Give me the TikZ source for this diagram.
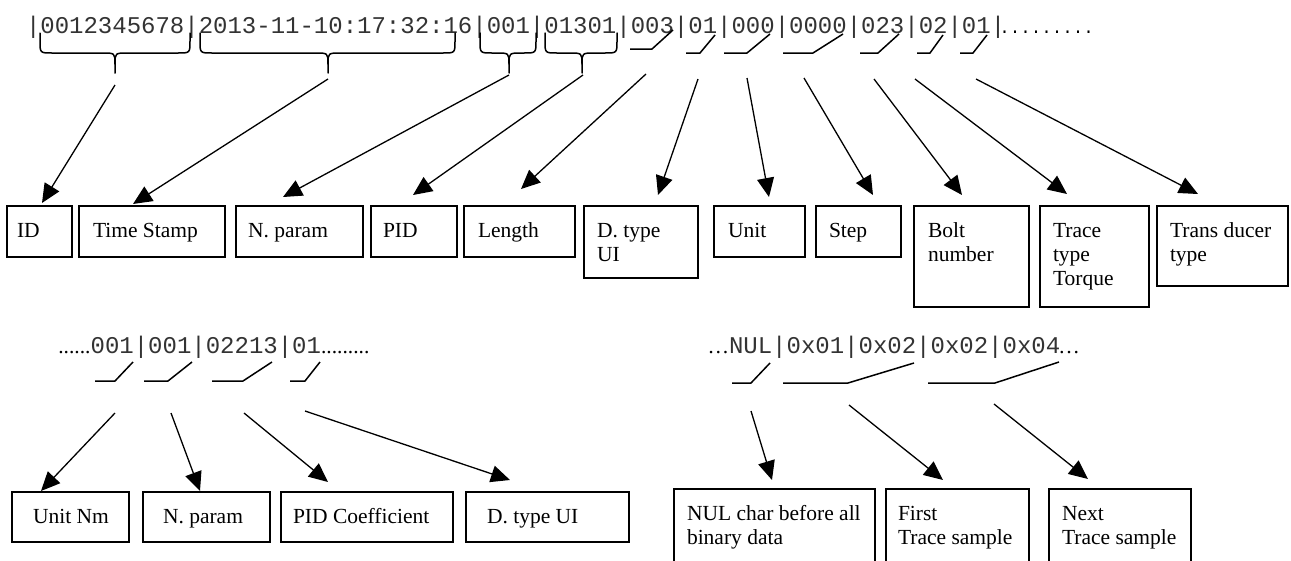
\documentclass[tikz,border=0pt]{standalone}
\usepackage{fontspec}
\setmainfont{Liberation Serif}
\newfontfamily\monof{Liberation Mono}
\usetikzlibrary{arrows.meta,calc}
\definecolor{monogray}{gray}{0.2}
\tikzset{
  box/.style={draw, line width=1.6pt, anchor=north west, inner sep=0pt, outer sep=0pt},
  lbl/.style={anchor=base west, inner sep=0pt, outer sep=0pt, font=\fontsize{21.5}{24}\selectfont},
  mono/.style={anchor=base west, inner sep=0pt, outer sep=0pt, text=monogray, font=\monof\fontsize{24}{28}\selectfont},
  monodots/.style={anchor=base west, inner sep=0pt, outer sep=0pt, font=\monof\fontsize{17.5}{20}\selectfont},
  sdots/.style={inner sep=0pt, outer sep=0pt, font=\fontsize{21.5}{24}\selectfont},
  arr/.style={line width=1.3pt, -{Triangle[length=19pt,width=17pt]}},
  brc/.style={line width=1.5pt, line cap=round, line join=round},
  hook/.style={line width=1.5pt, line join=round}
}
\newcommand{\mybrace}[3]{%
  \draw[brc] (#1,33) -- (#1,41) .. controls (#1,53) .. (#1+12,53) -- (#2-13,53) .. controls (#2,53) .. (#2,64) -- (#2,73);
  \draw[brc] (#3,33) -- (#3,41) .. controls (#3,53) .. (#3-12,53) -- (#2+13,53) .. controls (#2,53) .. (#2,64);}
\newcommand{\mkbox}[7]{%
  \node[box, minimum width=#4pt, minimum height=#5pt] (#1) at (#2,#3) {};
  \node[lbl] (#1t) at ($(#1.north west)+(#7,31)$) {#6};}
\newcommand{\two}[2]{\begin{tabular}[t]{@{}l@{}}#1\\#2\end{tabular}}
\newcommand{\three}[3]{\begin{tabular}[t]{@{}l@{}}#1\\#2\\#3\end{tabular}}
\begin{document}
\begin{tikzpicture}[x=1pt,y=-1pt]
\useasboundingbox (0,0) rectangle (1291,560);
\fill[white] (0,0) rectangle (1291,560);
\clip (0,0) rectangle (1291,560);

% ---------- row 1 text ----------
\node[mono] (row1) at (26,33) {|0012345678|2013-11-10:17:32:16|001|01301|003|01|000|0000|023|02|01|};
\node[monodots] (row1d) at ([xshift=-6pt]row1.base east) {.........};

% braces
\mybrace{40}{115}{190}
\mybrace{200}{328}{455}
\mybrace{480}{509}{536}
\mybrace{545}{582}{617}

% hooks
\draw[hook] (630,49) -- (652,49) -- (673,30);
\draw[hook] (686,53) -- (700,53) -- (715,35);
\draw[hook] (724,53) -- (747,53) -- (770,34);
\draw[hook] (783,53) -- (813,53) -- (843,34);
\draw[hook] (860,53) -- (878,53) -- (899,34);
\draw[hook] (917,53) -- (930,53) -- (943,35);
\draw[hook] (960,53) -- (973,53) -- (987,35);

% ---------- row 1 boxes ----------
\mkbox{bID}{7}{206}{65}{51}{ID}{10}
\mkbox{bTS}{79}{206}{146}{51}{Time Stamp}{14}
\mkbox{bNP}{236}{206}{127}{51}{N. param}{12}
\mkbox{bPID}{371}{206}{86}{51}{PID}{12}
\mkbox{bLen}{464}{206}{111}{51}{Length}{14}
\mkbox{bDT}{584}{206}{114}{72}{\two{D. type}{UI}}{13}
\mkbox{bUnit}{714}{206}{91}{51}{Unit}{14}
\mkbox{bStep}{816}{206}{85}{51}{Step}{13}
\mkbox{bBolt}{914}{206}{115}{101}{\two{Bolt}{number}}{14}
\mkbox{bTrace}{1040}{206}{109}{101}{\three{Trace}{type}{Torque}}{13}
\mkbox{bTrans}{1157}{206}{131}{80}{\two{Trans ducer}{type}}{13}

% row 1 arrow starts
\coordinate (sID) at (115,85);
\coordinate (sTS) at (328,79);
\coordinate (sNP) at (509,75);
\coordinate (sPID) at (583,75);
\coordinate (sLen) at (646,74);
\coordinate (sDT) at (698,79);
\coordinate (sUnit) at (747,78);
\coordinate (sStep) at (804,78);
\coordinate (sBolt) at (874,79);
\coordinate (sTrace) at (915,79);
\coordinate (sTrans) at (976,79);

\draw[arr] (sID) -- ($(bID.north west)+(35,-3)$);
\draw[arr] (sTS) -- ($(bTS.north west)+(54,-2)$);
\draw[arr] (sNP) -- ($(bNP.north west)+(47,-9)$);
\draw[arr] (sPID) -- ($(bPID.north west)+(42,-11)$);
\draw[arr] (sLen) -- ($(bLen.north west)+(57,-17)$);
\draw[arr] (sDT) -- ($(bDT.north west)+(74,-11)$);
\draw[arr] (sUnit) -- ($(bUnit.north west)+(55,-9)$);
\draw[arr] (sStep) -- ($(bStep.north west)+(57,-11)$);
\draw[arr] (sBolt) -- ($(bBolt.north west)+(48,-11)$);
\draw[arr] (sTrace) -- ($(bTrace.north west)+(27,-12)$);
\draw[arr] (sTrans) -- ($(bTrans.north west)+(41,-12)$);

% ---------- row 2 ----------
\node[mono] (row2) at (90.6,353) {001|001|02213|01};
\node[sdots, anchor=base east] (row2l) at (row2.base west) {......};
\node[sdots, anchor=base west] (row2r) at (row2.base east) {.........};

\draw[hook] (95,381) -- (115,381) -- (133,362);
\draw[hook] (144,381) -- (168,381) -- (192,362);
\draw[hook] (212,381) -- (243,381) -- (272,362);
\draw[hook] (290,381) -- (305,381) -- (320,362);

\mkbox{bUNm}{12}{492}{117}{50}{Unit Nm}{21}
\mkbox{bNP2}{143}{492}{127}{50}{N. param}{20}
\mkbox{bPIDC}{281}{492}{172}{50}{PID Coefficient}{12}
\mkbox{bDT2}{466}{492}{163}{50}{D. type UI}{21}

\coordinate (sUNm) at (115,413);
\coordinate (sNP2) at (171,413);
\coordinate (sPIDC) at (244,413);
\coordinate (sDT2) at (305,411);
\draw[arr] (sUNm) -- ($(bUNm.north west)+(29,-1)$);
\draw[arr] (sNP2) -- ($(bNP2.north west)+(57,-1)$);
\draw[arr] (sPIDC) -- ($(bPIDC.north west)+(47,-10)$);
\draw[arr] (sDT2) -- ($(bDT2.north west)+(44,-12)$);

% ---------- row 3 ----------
\node[mono] (row3) at (729,353) {NUL|0x01|0x02|0x02|0x04};
\node[sdots, anchor=base east] (row3l) at (row3.base west) {…};
\node[sdots, anchor=base west] (row3r) at ([xshift=-2pt]row3.base east) {…};

\draw[hook] (732,383) -- (751,383) -- (770,363);
\draw[hook] (783,383) -- (848,383) -- (914,363);
\draw[hook] (928,383) -- (995,383) -- (1059,362);

\mkbox{bNUL}{674}{489}{201}{80}{\two{NUL char before all}{binary data}}{13}
\mkbox{bFirst}{886}{489}{143}{80}{\two{First}{Trace sample}}{12}
\mkbox{bNext}{1049}{489}{142}{80}{\two{Next}{Trace sample}}{13}

\coordinate (sNUL) at (751,411);
\coordinate (sFirst) at (849,405);
\coordinate (sNext) at (994,404);
\draw[arr] (sNUL) -- ($(bNUL.north west)+(98,-9)$);
\draw[arr] (sFirst) -- ($(bFirst.north west)+(57,-9)$);
\draw[arr] (sNext) -- ($(bNext.north west)+(39,-10)$);
\end{tikzpicture}
\end{document}
